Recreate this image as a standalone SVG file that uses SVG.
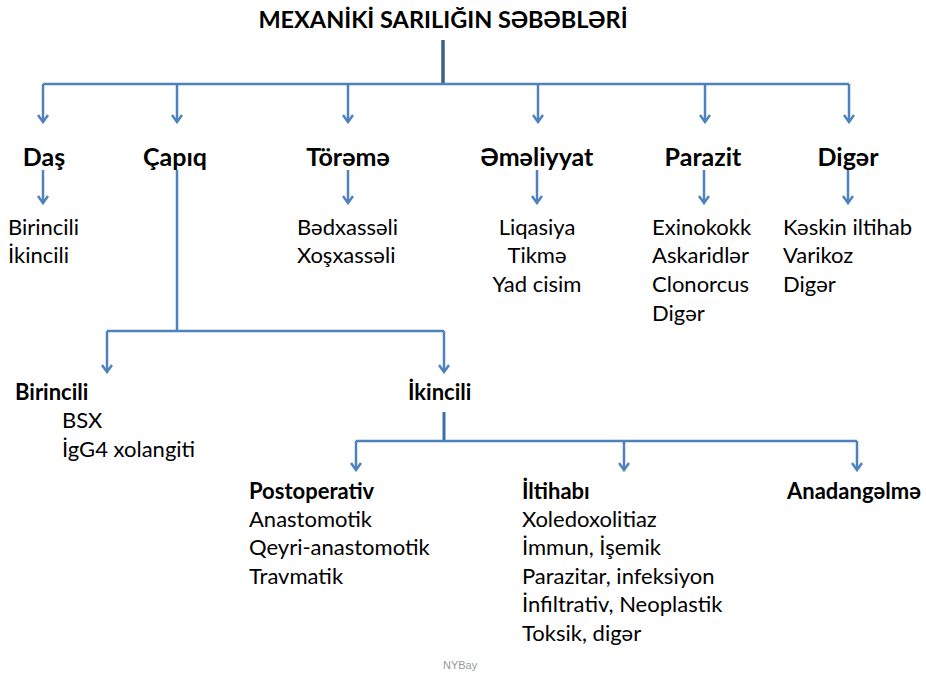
<svg xmlns="http://www.w3.org/2000/svg" width="926" height="680" viewBox="0 0 926 680">
<defs>
<style>
.t{font-family:Lato,"Liberation Sans",sans-serif;fill:#000}
.h{font-size:23.5px;font-weight:bold}
.b{font-size:25px;font-weight:bold}
.s{font-size:22px;font-weight:bold}
.r{font-size:22px}
.m{text-anchor:middle}
.c{fill:none;stroke:#4F81BD;stroke-width:2.5}
.w{font-family:"Liberation Sans",sans-serif;font-size:11px;fill:#999}
</style>
<marker id="a" viewBox="0 0 10 12" refX="8.5" refY="6" markerWidth="10" markerHeight="12" markerUnits="userSpaceOnUse" orient="auto">
<path d="M1.5,1 L8.5,6 L1.5,11" fill="none" stroke="#4F81BD" stroke-width="2.5"/>
</marker>
</defs>
<rect width="926" height="680" fill="#fff"/>
<g id="connectors">
<line x1="443" y1="40" x2="443" y2="84" stroke="#3C5F8A" stroke-width="3.5"/>
<path class="c" d="M43,84 H849"/>
<path class="c" d="M43,84 V122" marker-end="url(#a)"/>
<path class="c" d="M177,84 V122" marker-end="url(#a)"/>
<path class="c" d="M348,84 V122" marker-end="url(#a)"/>
<path class="c" d="M538,84 V122" marker-end="url(#a)"/>
<path class="c" d="M705,84 V122" marker-end="url(#a)"/>
<path class="c" d="M849,84 V122" marker-end="url(#a)"/>
<path class="c" d="M43,170 V203" marker-end="url(#a)"/>
<path class="c" d="M348,170 V203" marker-end="url(#a)"/>
<path class="c" d="M537,170 V203" marker-end="url(#a)"/>
<path class="c" d="M704,170 V203" marker-end="url(#a)"/>
<path class="c" d="M848,170 V203" marker-end="url(#a)"/>
<path class="c" d="M177,170 V331"/>
<path class="c" d="M107,331 H444"/>
<path class="c" d="M107,331 V372" marker-end="url(#a)"/>
<path class="c" d="M444,331 V372" marker-end="url(#a)"/>
<line x1="444" y1="412" x2="444" y2="441" stroke="#3C6FA8" stroke-width="3"/>
<path class="c" d="M356,441 H857"/>
<path class="c" d="M356,441 V470" marker-end="url(#a)"/>
<path class="c" d="M624,441 V470" marker-end="url(#a)"/>
<path class="c" d="M857,441 V470" marker-end="url(#a)"/>
</g>
<g id="title"><text class="t h m" x="443" y="28">MEXANİKİ SARILIĞIN SƏBƏBLƏRİ</text></g>
<g id="das">
<text class="t b m" x="44" y="166">Daş</text>
<text class="t r" x="8" y="235">Birincili</text>
<text class="t r" x="8" y="263">İkincili</text>
</g>
<g id="capiq"><text class="t b m" x="175" y="166">Çapıq</text></g>
<g id="toreme">
<text class="t b m" x="348" y="166">Törəmə</text>
<text class="t r" x="297" y="235">Bədxassəli</text>
<text class="t r" x="297" y="263">Xoşxassəli</text>
</g>
<g id="emeliyyat">
<text class="t b m" x="537" y="166">Əməliyyat</text>
<text class="t r m" x="537" y="235">Liqasiya</text>
<text class="t r m" x="537" y="263">Tikmə</text>
<text class="t r m" x="537" y="292">Yad cisim</text>
</g>
<g id="parazit">
<text class="t b m" x="703" y="166">Parazit</text>
<text class="t r" x="652" y="235">Exinokokk</text>
<text class="t r" x="652" y="263">Askaridlər</text>
<text class="t r" x="652" y="292">Clonorcus</text>
<text class="t r" x="652" y="321">Digər</text>
</g>
<g id="diger">
<text class="t b m" x="848" y="166">Digər</text>
<text class="t r" x="783" y="235">Kəskin iltihab</text>
<text class="t r" x="783" y="263">Varikoz</text>
<text class="t r" x="783" y="292">Digər</text>
</g>
<g id="birincili">
<text class="t s" x="15" y="400">Birincili</text>
<text class="t r" x="62" y="428">BSX</text>
<text class="t r" x="62" y="457">İgG4 xolangiti</text>
</g>
<g id="ikincili"><text class="t s" x="408" y="400">İkincili</text></g>
<g id="postoperativ">
<text class="t s" x="249" y="499">Postoperativ</text>
<text class="t r" x="249" y="527">Anastomotik</text>
<text class="t r" x="249" y="555">Qeyri-anastomotik</text>
<text class="t r" x="249" y="584">Travmatik</text>
</g>
<g id="iltihabi">
<text class="t s" x="522" y="499">İltihabı</text>
<text class="t r" x="522" y="527">Xoledoxolitiaz</text>
<text class="t r" x="522" y="555">İmmun, İşemik</text>
<text class="t r" x="522" y="584">Parazitar, infeksiyon</text>
<text class="t r" x="522" y="612">İnfiltrativ, Neoplastik</text>
<text class="t r" x="522" y="641">Toksik, digər</text>
</g>
<g id="anadangelme"><text class="t s" x="787" y="499">Anadangəlmə</text></g>
<text class="w" x="443" y="669">NYBay</text>
</svg>
